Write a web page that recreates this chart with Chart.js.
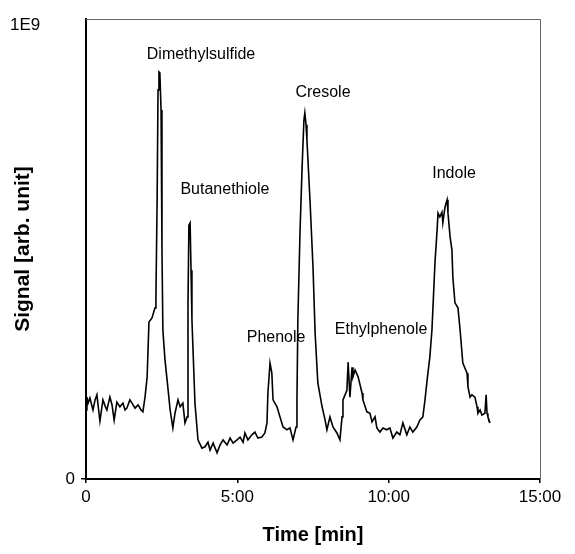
<!DOCTYPE html>
<html>
<head>
<meta charset="utf-8">
<script src="https://cdn.jsdelivr.net/npm/chart.js@4"></script>
<style>
  html, body { margin: 0; padding: 0; background: #fff; }
  #wrap { width: 575px; height: 554px; }
</style>
</head>
<body>
<div id="wrap"><canvas id="chromChart"></canvas></div>
<script>
// time axis in minutes
const timeMin = [
  0, 0.03, 0.07, 0.13, 0.23, 0.30, 0.36, 0.46, 0.56, 0.63, 0.69, 0.79, 0.86, 0.93, 1.02, 1.12, 1.22, 1.29, 1.35, 1.45,
  1.52, 1.62, 1.72, 1.82, 1.88, 1.95, 2.02, 2.08, 2.18, 2.28, 2.31, 2.35, 2.38, 2.41, 2.44, 2.48, 2.51, 2.54, 2.61, 2.68,
  2.78, 2.87, 2.94, 3.04, 3.11, 3.20, 3.27, 3.34, 3.37, 3.40, 3.44, 3.47, 3.50, 3.60, 3.70, 3.83, 3.93, 4.03, 4.10, 4.20,
  4.33, 4.43, 4.53, 4.66, 4.76, 4.86, 4.99, 5.09, 5.19, 5.25, 5.35, 5.48, 5.58, 5.68, 5.81, 5.91, 5.98, 6.01, 6.08, 6.11,
  6.14, 6.18, 6.31, 6.41, 6.51, 6.64, 6.74, 6.84, 6.94, 6.97, 7.00, 7.07, 7.14, 7.20, 7.23, 7.27, 7.30, 7.40, 7.50, 7.57,
  7.66, 7.80, 7.90, 7.96, 8.06, 8.16, 8.29, 8.39, 8.46, 8.49, 8.62, 8.66, 8.72, 8.79, 8.82, 8.89, 8.99, 9.12, 9.15, 9.28,
  9.38, 9.45, 9.55, 9.61, 9.71, 9.81, 9.94, 10.04, 10.14, 10.27, 10.37, 10.47, 10.60, 10.70, 10.80, 10.93, 11.03, 11.13, 11.20, 11.27,
  11.36, 11.43, 11.53, 11.60, 11.63, 11.69, 11.76, 11.79, 11.86, 11.93, 11.96, 12.03, 12.09, 12.12, 12.19, 12.29, 12.36, 12.45, 12.59, 12.62,
  12.69, 12.75, 12.85, 12.92, 12.95, 13.02, 13.08, 13.18, 13.22, 13.25, 13.28, 13.35
];

// signal as fraction of 1E9
const signal = [
  0.150, 0.178, 0.165, 0.176, 0.150, 0.172, 0.183, 0.126, 0.172, 0.159, 0.150, 0.178, 0.161, 0.128, 0.167, 0.157, 0.165, 0.150, 0.154, 0.172,
  0.165, 0.154, 0.161, 0.150, 0.146, 0.178, 0.222, 0.341, 0.350, 0.372, 0.393, 0.607, 0.846, 0.885, 0.883, 0.802, 0.498, 0.324, 0.259, 0.215,
  0.150, 0.111, 0.143, 0.172, 0.157, 0.165, 0.122, 0.135, 0.383, 0.552, 0.557, 0.454, 0.346, 0.165, 0.085, 0.067, 0.070, 0.080, 0.063, 0.078,
  0.057, 0.074, 0.085, 0.074, 0.089, 0.078, 0.085, 0.091, 0.080, 0.100, 0.085, 0.096, 0.102, 0.089, 0.091, 0.100, 0.122, 0.187, 0.252, 0.252,
  0.230, 0.172, 0.157, 0.135, 0.113, 0.107, 0.111, 0.085, 0.113, 0.172, 0.346, 0.535, 0.678, 0.780, 0.796, 0.770, 0.737, 0.607, 0.461, 0.317,
  0.209, 0.157, 0.128, 0.107, 0.135, 0.113, 0.100, 0.085, 0.135, 0.172, 0.193, 0.254, 0.178, 0.243, 0.222, 0.237, 0.222, 0.187, 0.172, 0.146,
  0.143, 0.124, 0.135, 0.111, 0.102, 0.111, 0.107, 0.111, 0.089, 0.102, 0.096, 0.122, 0.096, 0.113, 0.102, 0.113, 0.128, 0.135, 0.172, 0.215,
  0.265, 0.324, 0.470, 0.541, 0.578, 0.570, 0.580, 0.557, 0.591, 0.607, 0.578, 0.526, 0.498, 0.439, 0.383, 0.372, 0.324, 0.252, 0.230, 0.200,
  0.178, 0.183, 0.178, 0.157, 0.143, 0.150, 0.139, 0.143, 0.183, 0.143, 0.135, 0.122
];

// x tick labels (minutes -> text)
const xTickValues = [0, 5, 10, 15];
const xTickLabels = ['0', '5:00', '10:00', '15:00'];
const yTopLabel = '1E9';

// peak names and where their labels sit (in data units)
const peakNames = ['Dimethylsulfide', 'Butanethiole', 'Phenole', 'Cresole', 'Ethylphenole', 'Indole'];
const peakLabelTime = [3.80, 4.59, 6.28, 7.83, 9.75, 12.16];
const peakLabelSignal = [0.922, 0.630, 0.307, 0.839, 0.324, 0.665];

const FONT = '"Liberation Sans", Arial, sans-serif';

const points = timeMin.map((t, i) => ({ x: t, y: signal[i] }));

// frame (thin top/right lines), peak names and the 1E9 label
const extrasPlugin = {
  id: 'extras',
  afterDraw(chart) {
    const { ctx, chartArea: a, scales } = chart;
    ctx.save();
    ctx.strokeStyle = '#666';
    ctx.lineWidth = 1;
    ctx.beginPath();
    ctx.moveTo(a.left, a.top + 0.5);
    ctx.lineTo(a.right + 0.5, a.top + 0.5);
    ctx.lineTo(a.right + 0.5, a.bottom);
    ctx.stroke();

    ctx.fillStyle = '#000';
    ctx.font = '16px ' + FONT;
    ctx.textAlign = 'center';
    ctx.textBaseline = 'middle';
    peakNames.forEach((name, i) => {
      ctx.fillText(name, scales.x.getPixelForValue(peakLabelTime[i]), scales.y.getPixelForValue(peakLabelSignal[i]));
    });

    ctx.font = '17px ' + FONT;
    ctx.textAlign = 'left';
    ctx.fillText(yTopLabel, 10, scales.y.getPixelForValue(1) + 6);
    ctx.restore();
  }
};

const ctx = document.getElementById('chromChart').getContext('2d');

new Chart(ctx, {
  type: 'line',
  data: {
    datasets: [{
      data: points,
      borderColor: '#000',
      borderWidth: 1.6,
      pointRadius: 0,
      tension: 0,
      fill: false
    }]
  },
  options: {
    responsive: true,
    maintainAspectRatio: false,
    animation: false,
    layout: { padding: { top: 19, right: 35, left: 0, bottom: 0 } },
    plugins: {
      legend: { display: false },
      tooltip: { enabled: false }
    },
    scales: {
      x: {
        type: 'linear',
        min: 0,
        max: 15,
        afterBuildTicks: (scale) => { scale.ticks = xTickValues.map(v => ({ value: v })); },
        afterFit: (scale) => { scale.height = 75; },
        border: { color: '#000', width: 2 },
        grid: { display: true, drawOnChartArea: false, tickLength: 4, color: '#000', lineWidth: 1.5 },
        ticks: {
          color: '#000',
          font: { family: FONT, size: 17 },
          padding: 4,
          maxRotation: 0,
          callback: (v) => xTickLabels[xTickValues.indexOf(v)]
        },
        title: {
          display: true,
          text: 'Time [min]',
          color: '#000',
          font: { family: FONT, size: 20, weight: 'bold' },
          padding: { top: 0, bottom: 7 }
        }
      },
      y: {
        min: 0,
        max: 1,
        afterBuildTicks: (scale) => { scale.ticks = [{ value: 0 }]; },
        afterFit: (scale) => { scale.width = 86; },
        border: { color: '#000', width: 2 },
        grid: { display: true, drawOnChartArea: false, tickLength: 5, color: '#000', lineWidth: 1.5 },
        ticks: {
          color: '#000',
          font: { family: FONT, size: 17 },
          padding: 6,
          callback: (v) => (v === 0 ? '0' : '')
        },
        title: {
          display: true,
          text: 'Signal [arb. unit]',
          color: '#000',
          font: { family: FONT, size: 21, weight: 'bold' },
          padding: { top: 11, bottom: 0 }
        }
      }
    }
  },
  plugins: [extrasPlugin]
});
</script>
</body>
</html>
